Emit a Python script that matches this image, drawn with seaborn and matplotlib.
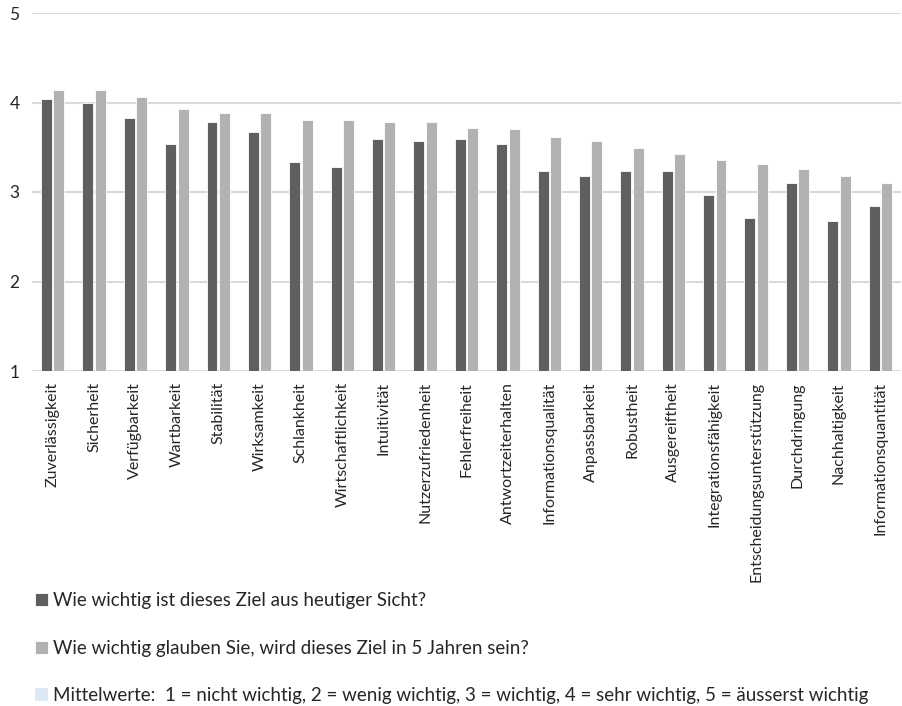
import numpy as np
import pandas as pd
import seaborn as sns
import matplotlib.pyplot as plt
from matplotlib.patches import Patch

# categories and mean values (1..5 scale)
ziele = ['Zuverlässigkeit', 'Sicherheit', 'Verfügbarkeit', 'Wartbarkeit', 'Stabilität',
         'Wirksamkeit', 'Schlankheit', 'Wirtschaftlichkeit', 'Intuitivität',
         'Nutzerzufriedenheit', 'Fehlerfreiheit', 'Antwortzeiterhalten',
         'Informationsqualität', 'Anpassbarkeit', 'Robustheit', 'Ausgereiftheit',
         'Integrationsfähigkeit', 'Entscheidungsunterstützung', 'Durchdringung',
         'Nachhaltigkeit', 'Informationsquantität']
heute = [4.04, 3.99, 3.83, 3.54, 3.78, 3.67, 3.33, 3.28, 3.59, 3.57, 3.59,
         3.54, 3.23, 3.18, 3.23, 3.23, 2.97, 2.71, 3.10, 2.68, 2.84]
in_5_jahren = [4.14, 4.14, 4.06, 3.93, 3.88, 3.88, 3.80, 3.80, 3.78, 3.78, 3.72,
               3.70, 3.62, 3.57, 3.49, 3.43, 3.36, 3.31, 3.26, 3.18, 3.10]

serie_heute = 'Wie wichtig ist dieses Ziel aus heutiger Sicht?'
serie_5j = 'Wie wichtig glauben Sie, wird dieses Ziel in 5 Jahren sein?'
hinweis = 'Mittelwerte:  1 = nicht wichtig, 2 = wenig wichtig, 3 = wichtig, 4 = sehr wichtig, 5 = äusserst wichtig'

df = pd.DataFrame({'Ziel': ziele * 2,
                   'Wert': heute + in_5_jahren,
                   'Frage': [serie_heute] * len(ziele) + [serie_5j] * len(ziele)})

sns.set_style('white')
plt.rcParams['font.family'] = ['Lato', 'DejaVu Sans']

fig = plt.figure(figsize=(9.02, 7.06), dpi=100)
ax = fig.add_axes([32 / 902, 1 - 371 / 706, 869 / 902, 358 / 706])

farben = {serie_heute: '#5f5f5f', serie_5j: '#b2b2b2'}
sns.barplot(data=df, x='Ziel', y='Wert', hue='Frage', palette=farben,
            width=0.6, gap=0.12, edgecolor='white', linewidth=0.6, ax=ax)

ax.set_ylim(1, 5)
ax.set_yticks([1, 2, 3, 4, 5])
ax.yaxis.grid(True, color='#d9d9d9', linewidth=1.5)
ax.set_axisbelow(True)
for s in ax.spines.values():
    s.set_visible(False)
ax.set_xlabel('')
ax.set_ylabel('')
ax.tick_params(axis='y', labelsize=12.5, pad=9, length=0)
ax.tick_params(axis='x', labelsize=11.5, length=0, pad=8)
plt.setp(ax.get_xticklabels(), rotation=90, va='top', ha='center')

handles, labels = ax.get_legend_handles_labels()
handles.append(Patch(facecolor='#dde8f6', edgecolor='none'))
labels.append(hinweis)
ax.legend_.remove()
fig.legend(handles, labels, loc='upper left', bbox_to_anchor=(0.030, 0.172),
           frameon=False, fontsize=13.5, labelspacing=1.63, handlelength=0.7,
           handleheight=0.7, handletextpad=0.3, borderaxespad=0)

fig.savefig('out.png', dpi=100)
